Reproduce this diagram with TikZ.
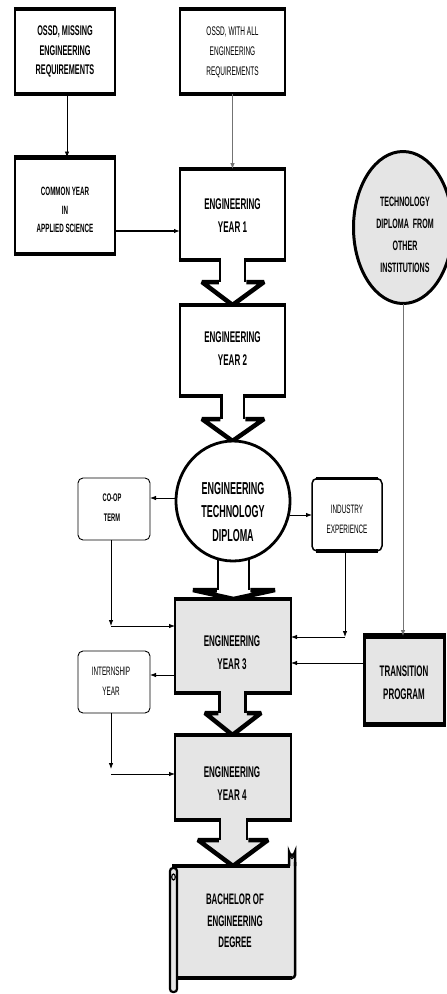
\documentclass[tikz,border=0pt]{standalone}
\usepackage{fontspec}
\setmainfont{Liberation Sans}[FakeStretch=0.52]
\usetikzlibrary{arrows.meta,shapes.geometric}
\definecolor{stone}{gray}{0.9}
\definecolor{lgray}{gray}{0.45}
\tikzset{
  tb/.style={draw, line width=2.5pt, outer sep=0pt, inner sep=0pt, rectangle},
  rb/.style={draw, line width=0.9pt, rounded corners=5pt, outer sep=0pt, inner sep=0pt, rectangle},
  conn/.style={-{Latex[length=6pt,width=4.5pt]}, line width=0.8pt},
  tx/.style={align=center, inner sep=0pt},
  fA/.style={tx, font=\bfseries\fontsize{14}{19.5}\selectfont},
  fB/.style={tx, font=\fontsize{12.5}{20}\selectfont},
  fC/.style={tx, font=\bfseries\fontsize{12}{18.5}\selectfont},
  fY/.style={tx, font=\bfseries\fontsize{15.5}{23}\selectfont},
  fD/.style={tx, font=\bfseries\fontsize{17.3}{23.5}\selectfont},
  fT/.style={tx, font=\bfseries\fontsize{13.6}{22}\selectfont},
  fG/.style={tx, font=\bfseries\fontsize{15.2}{21.5}\selectfont},
  fS/.style={tx, font=\fontsize{12.2}{20}\selectfont},
  fSb/.style={tx, font=\bfseries\fontsize{11}{20}\selectfont},
}
% thick top and bottom bars of a box node
\newcommand\hbars[2]{%
  \draw[line width=#2] ([xshift=-1.25pt]#1.north west) -- ([xshift=1.25pt]#1.north east);
  \draw[line width=#2] ([xshift=-1.25pt]#1.south west) -- ([xshift=1.25pt]#1.south east);}
% block arrow: fill, ytop, shaft L, shaft R, wing y, wing L, wing R, centre x, tip y
\newcommand\blockarr[9]{%
  \fill[#1] (#3,#2-3) -- (#3,#5) -- (#6,#5) -- (#8,#9) -- (#7,#5) -- (#4,#5) -- (#4,#2-3) -- cycle;
  \draw[line width=2.5pt] (#3,#2-2.25) -- (#3,#5) (#4,#2-2.25) -- (#4,#5);
  \draw[line width=4.5pt, line join=miter, miter limit=3] (#3-1.25,#5) -- (#6,#5) -- (#8,#9) -- (#7,#5) -- (#4+1.25,#5);}
\begin{document}
\begin{tikzpicture}[x=1pt,y=-1pt]
\useasboundingbox (0,0) rectangle (447,994);
\clip (0,0) rectangle (447,994);

% top boxes
\node[tb, fill=white, minimum width=100, minimum height=85] (A) at (65,51.5) {};
\hbars{A}{4.5pt}
\node[fA] (At) at (65,51.5) {OSSD, MISSING\\ENGINEERING\\REQUIREMENTS};
\node[tb, fill=white, minimum width=105, minimum height=85] (B) at (232.5,51.5) {};
\hbars{B}{4.5pt}
\node[fB] (Bt) at (232.5,52) {OSSD, WITH ALL\\ENGINEERING\\REQUIREMENTS};
\node[tb, fill=white, minimum width=100, minimum height=96.5] (C) at (65,205.75) {};
\hbars{C}{4.5pt}
\node[fC] (Ct) at (65,210) {COMMON YEAR\\IN\\APPLIED SCIENCE};

% year 1
\node[tb, fill=white, minimum width=105, minimum height=91] (Y1) at (232.5,214.5) {};
\hbars{Y1}{4.5pt}
\node[fY] (Y1t) at (232.5,216) {ENGINEERING\\YEAR 1};
\blockarr{white}{260}{220}{245}{282}{202}{264}{232.5}{305}

% year 2
\node[tb, fill=white, minimum width=105, minimum height=91] (Y2) at (232.5,350.5) {};
\hbars{Y2}{4.5pt}
\node[fY] (Y2t) at (232.5,348.5) {ENGINEERING\\YEAR 2};
\blockarr{white}{396}{221.5}{244}{419}{202}{264}{232.5}{441}

% diploma arrow then diploma
\blockarr{white}{555}{218}{249}{590}{193}{275}{233.5}{599}
\node[ellipse, draw, line width=2.8pt, fill=white, minimum width=114, minimum height=120, inner sep=0pt, outer sep=0pt] (D) at (233,501) {};
\node[fD] (Dt) at (233,512) {ENGINEERING\\TECHNOLOGY\\DIPLOMA};

% other institutions
\node[ellipse, draw, line width=3pt, fill=stone, minimum width=99, minimum height=152, inner sep=0pt, outer sep=0pt] (T) at (403,227.5) {};
\node[fT] (Tt) at (405,235) {TECHNOLOGY\\DIPLOMA~~FROM\\OTHER\\INSTITUTIONS};

% transition
\node[tb, line width=3pt, fill=stone, minimum width=80, minimum height=88] (TR) at (404.5,680) {};
\draw[line width=6pt] ([xshift=-1.5pt]TR.north west) -- ([xshift=1.5pt]TR.north east);
\draw[line width=5pt] ([xshift=-1.5pt]TR.south west) -- ([xshift=1.5pt]TR.south east);
\node[fY, font=\bfseries\fontsize{15.3}{23}\selectfont] (TRt) at (404,683) {TRANSITION\\PROGRAM};

% year 3
\node[tb, fill=stone, minimum width=116, minimum height=94] (Y3) at (233,646) {};
\hbars{Y3}{4.5pt}
\node[fY] (Y3t) at (232,652.5) {ENGINEERING\\YEAR 3};
\blockarr{stone}{693}{219.5}{245.5}{713}{205}{261}{232.5}{735}

% year 4
\node[tb, fill=stone, minimum width=116, minimum height=85] (Y4) at (233,777.5) {};
\hbars{Y4}{4.5pt}
\node[fY] (Y4t) at (232,784) {ENGINEERING\\YEAR 4};
\blockarr{stone}{820}{220}{247}{840}{198}{268}{233}{866}

% degree scroll
\fill[stone] (177,866) rectangle (294,978);
\draw[line width=2.5pt, fill=stone] (289,866) -- (289,852) arc[start angle=180, end angle=0, radius=3] -- (295,866);
\draw[line width=1.2pt] (292,857) circle[radius=1.6];
\draw[line width=2.5pt, rounded corners=3pt] (295,862) -- (295,978) -- (177,978);
\draw[line width=4pt] (177,978) -- (292,978);
\draw[line width=4pt] (172,866) -- (290,866);
\draw[line width=2.2pt, fill=stone, rounded corners=3pt] (170,868) rectangle (177,992);
\draw[line width=1.2pt] (173.5,877) ellipse[x radius=1.8, y radius=3];
\node[fG] (G) at (235,921) {BACHELOR OF\\ENGINEERING\\DEGREE};

% side boxes
\node[rb, fill=white, minimum width=72, minimum height=62] (coop) at (114,509) {};
\node[fSb] (coopt) at (112,508) {CO-OP\\TERM};
\node[rb, line width=1.5pt, fill=white, minimum width=70, minimum height=72.5] (ind) at (347,514.75) {};
\draw[line width=2.5pt] ([xshift=4pt]ind.north west) -- ([xshift=-4pt]ind.north east);
\draw[line width=3.5pt] ([xshift=4pt]ind.south west) -- ([xshift=-4pt]ind.south east);
\node[fS] (indt) at (347,519) {INDUSTRY\\EXPERIENCE};
\node[rb, fill=white, minimum width=72, minimum height=62] (intern) at (114,682) {};
\node[fS] (internt) at (111,681) {INTERNSHIP\\YEAR};

% connectors
\coordinate (k1) at (111,626);
\coordinate (k2) at (345,637);
\coordinate (k3) at (111,774);
\draw[conn] ([xshift=2pt]A.south) -- ([xshift=2pt]C.north);
\draw[conn, lgray] (B.south) -- (Y1.north);
\draw[conn, line width=1.5pt] (C.east |- 0,231) -- (Y1.west |- 0,231);
\draw[conn, lgray] (T.south) -- (T.south |- TR.north);
\draw[conn] (D.west |- 0,498) -- (coop.east |- 0,498);
\draw[conn] (289.5,515) -- (ind.west |- 0,515);
\draw[conn] (k1 |- coop.south) -- (k1);
\draw[conn] (k1) -- (k1 -| Y3.west);
\draw[conn] (k2 |- ind.south) -- (k2);
\draw[conn] (k2) -- (k2 -| Y3.east);
\draw[conn] (TR.west |- 0,663) -- (Y3.east |- 0,663);
\draw[conn] (Y3.west |- 0,675) -- (intern.east |- 0,675);
\draw[conn] (k3 |- intern.south) -- ([yshift=5pt]k3);
\draw[conn] (k3) -- (k3 -| Y4.west);
\end{tikzpicture}
\end{document}
